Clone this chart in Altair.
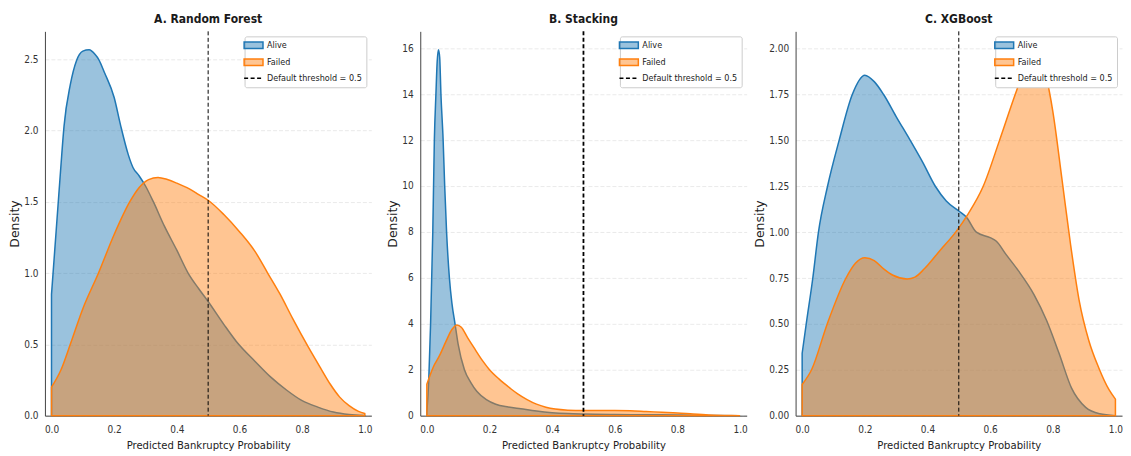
import altair as alt
import pandas as pd

# ---------------- data ----------------
SERIES = ["Alive", "Failed", "Default threshold = 0.5"]
THRESHOLD = [0.5]
X_TICKS = [0.0, 0.2, 0.4, 0.6, 0.8, 1.0]

# A. Random Forest
rf_alive_x = [0, .01, .02, .03, .04, .06, .08, .10, .12, .14, .15, .17, .20, .22, .245, .26, .28, .30,
              .325, .36, .40, .436, .47, .50, .55, .59, .65, .70, .75, .80, .85, .90, .95, 1.0]
rf_alive_y = [0.85, 1.15, 1.45, 1.75, 2.03, 2.32, 2.49, 2.555, 2.565, 2.53, 2.50, 2.40, 2.23, 2.04, 1.83,
              1.74, 1.68, 1.61, 1.50, 1.33, 1.16, 1.00, 0.89, 0.80, 0.64, 0.52, 0.38, 0.27, 0.18, 0.105,
              0.06, 0.025, 0.008, 0.002]
rf_failed_x = [0, .03, .06, .10, .15, .20, .25, .28, .31, .34, .37, .40, .44, .47, .50, .55, .60, .65,
               .69, .73, .77, .82, .86, .89, .92, .95, .98, 1.0]
rf_failed_y = [0.20, 0.32, 0.50, 0.75, 1.00, 1.27, 1.50, 1.60, 1.655, 1.67, 1.655, 1.63, 1.59, 1.55, 1.51,
               1.41, 1.29, 1.15, 1.00, 0.85, 0.68, 0.48, 0.33, 0.22, 0.13, 0.07, 0.03, 0.015]
rf_y_ticks = [0.0, 0.5, 1.0, 1.5, 2.0, 2.5]

# B. Stacking
st_alive_x = [0, .006, .012, .019, .024, .029, .033, .037, .041, .045, .052, .057, .063, .072, .08, .09,
              .10, .12, .14, .16, .19, .22, .26, .30, .35, .40, .45, .50, .60, .70, .80, .90, 1.0]
st_alive_y = [0.15, 1.5, 4.0, 8.0, 12.0, 14.0, 15.4, 15.93, 15.6, 14.0, 12.0, 10.0, 8.0, 6.0, 4.9, 4.0,
              3.1, 2.0, 1.45, 1.05, 0.70, 0.50, 0.38, 0.30, 0.20, 0.13, 0.09, 0.07, 0.05, 0.04, 0.03,
              0.012, 0.0]
st_failed_x = [0, .01, .02, .04, .06, .08, .096, .11, .13, .15, .18, .20, .23, .25, .27, .29, .32, .35,
               .38, .41, .45, .50, .55, .60, .65, .70, .75, .80, .85, .90, .95, 1.0]
st_failed_y = [1.37, 1.75, 2.1, 2.6, 3.2, 3.75, 3.95, 3.85, 3.4, 2.97, 2.35, 2.0, 1.6, 1.37, 1.15, 0.95,
               0.70, 0.50, 0.37, 0.29, 0.24, 0.22, 0.22, 0.22, 0.21, 0.18, 0.15, 0.12, 0.07, 0.03,
               0.01, 0.0]
st_y_ticks = [0, 2, 4, 6, 8, 10, 12, 14, 16]

# C. XGBoost
xg_alive_x = [0, .013, .034, .052, .081, .118, .16, .20, .23, .26, .30, .345, .385, .425, .46, .50,
              .525, .556, .60, .62, .65, .69, .74, .78, .82, .86, .905, .95, 1.0]
xg_alive_y = [0.34, 0.50, 0.75, 1.00, 1.25, 1.50, 1.75, 1.855, 1.82, 1.75, 1.63, 1.50, 1.38, 1.25, 1.17,
              1.115, 1.08, 1.00, 0.97, 0.95, 0.88, 0.79, 0.66, 0.52, 0.34, 0.15, 0.045, 0.01, 0.0]
xg_failed_x = [0, .03, .08, .14, .17, .20, .23, .26, .29, .335, .36, .39, .44, .49, .53, .578, .63, .68,
               .71, .736, .76, .78, .80, .83, .857, .884, .915, .947, .98, 1.0]
xg_failed_y = [0.17, 0.25, 0.50, 0.75, 0.83, 0.86, 0.845, 0.80, 0.765, 0.745, 0.755, 0.80, 0.90, 1.00,
               1.10, 1.25, 1.50, 1.75, 1.89, 1.994, 1.95, 1.84, 1.66, 1.28, 0.93, 0.63, 0.41, 0.26,
               0.14, 0.09]
xg_y_ticks = [0.0, 0.25, 0.5, 0.75, 1.0, 1.25, 1.5, 1.75, 2.0]

# ---------------- styling ----------------
BLUE = "#1f77b4"
ORANGE = "#ff7f0e"
BLUE_FILL = "rgba(31,119,180,0.45)"
ORANGE_FILL = "rgba(255,127,14,0.45)"
COND = "DejaVu Sans Condensed"
W, H = 327, 385
X_DOMAIN = [-0.021, 1.021]
RECT_PATH = "M-2.1,-0.73H2.1V0.73H-2.1Z"
LINE_PATH = "M-2.1,0H2.1"


def legend():
    return alt.Legend(
        title=None, orient="top-right", offset=5, padding=3.5, cornerRadius=2,
        strokeColor="#cccccc", fillColor="#ffffff", rowPadding=4, labelOffset=8,
        symbolSize=81, symbolStrokeWidth=1.5, labelFont=COND, labelFontSize=9,
        labelColor="#222222",
    )


def panel(title, ax, ay, fx, fy, yticks, ymax, yfmt, rule_w):
    alive_df = pd.DataFrame({"x": ax, "y": ay, "series": "Alive"})
    failed_df = pd.DataFrame({"x": fx, "y": fy, "series": "Failed"})
    thr_df = pd.DataFrame({"x": THRESHOLD, "series": SERIES[2]})

    fill = alt.Color("series:N",
                     scale=alt.Scale(domain=SERIES, range=[BLUE_FILL, ORANGE_FILL, "transparent"]),
                     legend=legend())
    stroke = alt.Stroke("series:N", scale=alt.Scale(domain=SERIES, range=[BLUE, ORANGE, "#000000"]),
                        legend=legend())
    dash = alt.StrokeDash("series:N",
                          scale=alt.Scale(domain=SERIES, range=[[1, 0], [1, 0], [4, 2.5]]),
                          legend=legend())
    shape = alt.Shape("series:N", scale=alt.Scale(domain=SERIES, range=[RECT_PATH, RECT_PATH, LINE_PATH]),
                      legend=legend())

    x = alt.X("x:Q", scale=alt.Scale(domain=X_DOMAIN, nice=False, zero=False),
              axis=alt.Axis(values=X_TICKS, format=".1f", grid=False,
                            title="Predicted Bankruptcy Probability",
                            labelPadding=8.5, titlePadding=5, labelFlush=False))
    y = alt.Y("y:Q", scale=alt.Scale(domain=[0, ymax], nice=False),
              axis=alt.Axis(values=yticks, format=yfmt, grid=True, title="Density",
                            titleFont="DejaVu Sans", titleFontSize=12.5,
                            titlePadding=2, labelPadding=7))

    alive = alt.Chart(alive_df).mark_area(
        fillOpacity=1, strokeWidth=1.5, interpolate="monotone"
    ).encode(x=x, y=y, color=fill, stroke=stroke, strokeDash=dash)
    failed = alt.Chart(failed_df).mark_area(
        fillOpacity=1, strokeWidth=1.5, interpolate="monotone"
    ).encode(x=x, y=y, color=fill, stroke=stroke, strokeDash=dash)
    rule = alt.Chart(thr_df).mark_rule(strokeWidth=rule_w).encode(
        x=alt.X("x:Q"), stroke=stroke, strokeDash=dash)
    shapes = alt.Chart(thr_df).transform_filter("false").mark_point(
        filled=True, opacity=1, strokeWidth=1.5
    ).encode(x=alt.X("x:Q"), shape=shape)

    return alt.layer(alive, failed, rule, shapes).properties(
        width=W, height=H,
        title=alt.TitleParams(title, font=COND, fontSize=12, fontWeight="bold",
                              color="#1a1a1a", offset=4.5, anchor="middle"),
    )


pA = panel("A. Random Forest", rf_alive_x, rf_alive_y, rf_failed_x, rf_failed_y,
           rf_y_ticks, 2.694, ".1f", 1.0)
pB = panel("B. Stacking", st_alive_x, st_alive_y, st_failed_x, st_failed_y,
           st_y_ticks, 16.73, "d", 1.8)
pC = panel("C. XGBoost", xg_alive_x, xg_alive_y, xg_failed_x, xg_failed_y,
           xg_y_ticks, 2.094, ".2f", 1.0)

chart = alt.hconcat(pA, pB, pC, spacing=49, bounds="flush").resolve_scale(
    color="independent", stroke="independent", strokeDash="independent", shape="independent",
    x="independent", y="independent"
).resolve_legend(
    color="independent", stroke="independent", strokeDash="independent", shape="independent"
).properties(
    padding={"left": 0, "top": 4, "right": 0, "bottom": 0}
).configure_view(stroke=None).configure_axis(
    ticks=False, tickSize=0, domainColor="#444444", domainWidth=1,
    labelFont=COND, labelFontSize=10, labelColor="#333333",
    titleFont=COND, titleFontSize=11.2, titleFontWeight="normal", titleColor="#222222",
    gridColor="#e4e4e4", gridDash=[4, 2], gridWidth=0.8, zindex=1,
)

chart.save("out.html", embed_options={"renderer": "svg", "actions": False})
